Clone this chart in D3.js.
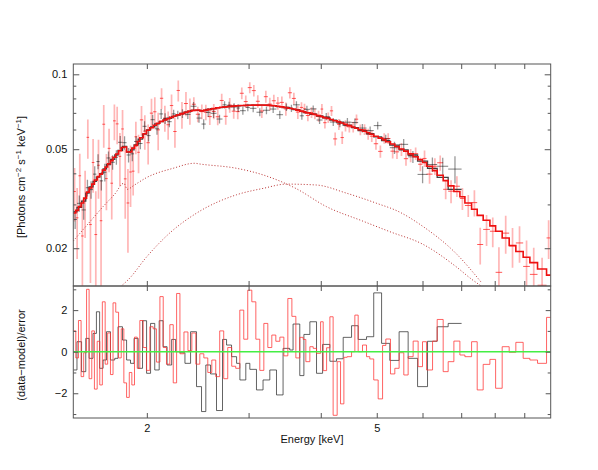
<!DOCTYPE html>
<html>
<head>
<meta charset="utf-8">
<script src="https://cdn.jsdelivr.net/npm/d3@7"></script>
<style>
  body { margin: 0; background: #fff; }
  text { font-family: "Liberation Sans", Arial, sans-serif; }
</style>
</head>
<body>
<svg id="chart" width="598" height="470"></svg>
<script>
// ---- red spectrum (bin edges in keV, flux, 1-sigma error, model, residual) ----
const redEdges = [1.492, 1.507, 1.523, 1.539, 1.555, 1.573, 1.589, 1.606, 1.623, 1.641, 1.658, 1.675, 1.694, 1.711, 1.730, 1.748, 1.767, 1.787, 1.806, 1.825, 1.845, 1.865, 1.884, 1.904, 1.925, 1.945, 1.971, 1.997, 2.024, 2.051, 2.078, 2.107, 2.135, 2.163, 2.192, 2.222, 2.252, 2.282, 2.319, 2.356, 2.393, 2.431, 2.470, 2.510, 2.550, 2.591, 2.632, 2.674, 2.717, 2.761, 2.805, 2.850, 2.897, 2.943, 2.990, 3.039, 3.088, 3.137, 3.188, 3.239, 3.291, 3.344, 3.398, 3.453, 3.508, 3.565, 3.622, 3.679,
  3.729, 3.769, 3.830, 3.881, 3.933, 3.997, 4.039, 4.094, 4.148, 4.202, 4.270, 4.328, 4.386, 4.443, 4.522, 4.582, 4.643, 4.724, 4.800, 4.863, 4.940, 5.028, 5.117, 5.184, 5.281, 5.373, 5.466, 5.569, 5.666, 5.780, 5.896, 6.000, 6.097, 6.245, 6.361, 6.515, 6.646, 6.799, 6.964, 7.104, 7.296, 7.461, 7.641, 7.848, 8.029, 8.242, 8.475, 8.703, 8.961, 9.204, 9.489, 9.836, 10.0];
const redRate = [.0338, .0265, .0391, .0224, .0315, .0558, .0249, .0442, .0227, .0431,
  .0258, .0630, .0381, .0504, .0365, .0650, .0632, .0468, .0603, .0380,
  .0304, .0405, .0408, .0561, .0486, .0656, .0591, .0531, .0698, .0707,
  .0598, .0801, .0667, .0627, .0749, .0589, .0861, .0689, .0763, .0713,
  .0758, .0691, .0708, .0704, .0676, .0709, .0675, .0785, .0678, .0752,
  .0711, .0708, .0839, .0777, .0884, .0860, .0779, .0712, .0813, .0759,
  .0783, .0766, .0771, .0726, .0843, .0800, .0705,
  .0736, .0727, .0683, .0702, .0694, .0679, .0725, .0639, .0670, .0713,
  .0550, .0629, .0557, .0621, .0615, .0614, .0660, .0599, .0600, .0575,
  .0564, .0526, .0490, .0553, .0552, .0491, .0488, .0500, .0458, .0472,
  .0480, .0435, .0459, .0397, .0427, .0441, .0345, .0339, .0355, .0317,
  .0297, .0305, .0207, .0238, .0234, .0160, .0230, .0204, .0210, .0169,
  .0157, .0142, .0220];
const redErr = [.0082, .0084, .0088, .0090, .0095, .0100, .0104, .0108, .0112, .0115,
  .0117, .0123, .0097, .0100, .0104, .0107, .0109, .0113, .0116, .0117,
  .0112, .0112, .0082, .0084, .0086, .0090, .0093, .0097, .0099, .0101,
  .0103, .0078, .0080, .0081, .0081, .0082, .0084, .0085, .0085, .0086,
  .0050, .0050, .0049, .0050, .0050, .0050, .0051, .0051, .0051, .0051,
  .0048, .0049, .0045, .0045, .0045, .0045, .0045, .0045, .0045, .0045,
  .0045, .0045, .0044, .0044, .0044, .0044, .0043,
  .0036, .0035, .0035, .0035, .0034, .0034, .0034, .0034, .0033, .0033,
  .0033, .0032, .0032, .0032, .0031, .0031, .0030, .0030, .0030, .0029,
  .0029, .0028, .0028, .0027, .0027, .0032, .0031, .0030, .0029, .0029,
  .0028, .0027, .0035, .0034, .0033, .0031, .0030, .0036, .0034, .0032,
  .0030, .0037, .0035, .0034, .0032, .0042, .0040, .0037, .0035, .0046,
  .0044, .0041, .0039];
const redModel = [.0277, .0284, .0294, .0304, .0318, .0336, .0349, .0362, .0376, .0388,
  .0397, .0412, .0424, .0437, .0450, .0464, .0478, .0493, .0508, .0510,
  .0487, .0488, .0505, .0518, .0537, .0556, .0577, .0596, .0610, .0624,
  .0636, .0647, .0655, .0663, .0671, .0680, .0687, .0695, .0703, .0710,
  .0716, .0719, .0713, .0718, .0723, .0728, .0733, .0737, .0740, .0742,
  .0745, .0747, .0749, .0750, .0751, .0752, .0752, .0753, .0752, .0750,
  .0747, .0744, .0740, .0735, .0730, .0725, .0718,
  .0711, .0706, .0700, .0694, .0689, .0682, .0676, .0670, .0664, .0658,
  .0651, .0644, .0637, .0630, .0622, .0614, .0607, .0599, .0590, .0582,
  .0574, .0564, .0554, .0545, .0536, .0525, .0513, .0501, .0491, .0479,
  .0466, .0454, .0442, .0427, .0410, .0393, .0374, .0356, .0338, .0322,
  .0304, .0287, .0271, .0259, .0246, .0234, .0220, .0205, .0194, .0184,
  .0175, .0165, .0156];
const redResid = [1.0, -0.3, 1.5, -1.2, -0.05, 3.0, -1.3, 1.0, -1.8, 0.5,
  -1.6, 2.4, -0.6, 0.9, -1.1, 2.35, 1.9, -0.3, 1.1, -1.5,
  -2.2, -1.0, -1.6, 0.7, -0.8, 1.5, 0.2, -0.9, 1.2, 1.1,
  -0.5, 2.65, 0.2, -0.6, 1.3, -1.5, 2.8, -0.1, 0.95, 0.05,
  0.9, -0.6, -0.1, -0.3, -1.0, -0.4, -1.2, 1.0, -1.3, 0.2,
  -0.7, -0.8, 2.0, 0.6, 2.96, 2.4, 0.6, -0.9, 1.36, 0.2,
  0.8, 0.5, 0.7, -0.2, 2.56, 1.7, -0.3,
  0.69, 0.59, -0.48, 0.24, 0.16, -0.08, 1.44, -0.91, 0.19, 1.68,
  -3.06, -0.48, -2.51, -0.27, -0.24, 0, 1.76, 0, 0.32, -0.24,
  -0.35, -1.36, -2.27, 0.30, 0.61, -1.07, -0.80, -0.05, -1.12, -0.24,
  0.51, -0.72, 0.48, -0.88, 0.51, 1.55, -0.96, -0.48, 0.51, -0.16,
  -0.24, 0.48, -1.84, -0.61, -0.37, -1.76, 0.24, -0.03, 0.45, -0.32,
  -0.40, -0.56, 1.65];

// ---- black spectrum ----
const blackEdges = [1.492, 1.514, 1.542, 1.568, 1.589, 1.614, 1.636, 1.657, 1.680, 1.703, 1.730, 1.760, 1.783, 1.815, 1.845, 1.874, 1.901, 1.932, 1.966, 1.998, 2.030, 2.064, 2.101, 2.134, 2.168, 2.208, 2.243, 2.282, 2.328, 2.381, 2.438, 2.487, 2.530, 2.578, 2.640, 2.704, 2.748, 2.803, 2.860, 2.898, 2.967, 3.015, 3.096, 3.178, 3.265, 3.353, 3.442, 3.535, 3.582, 3.679, 3.740, 3.830, 3.933, 4.029, 4.148, 4.260, 4.374, 4.522, 4.643, 4.800, 4.940, 5.097, 5.266, 5.466, 5.666, 5.883, 6.121, 6.361, 6.646, 7.011];
const blackRate = [.0261, .0303, .0285, .0350, .0344, .0397, .0446, .0373, .0404, .0461,
  .0443, .0464, .0533, .0531, .0474, .0479, .0537, .0527, .0618, .0567,
  .0657, .0604, .0693, .0664, .0645, .0693, .0686, .0695, .0690, .0744,
  .0667, .0631, .0703, .0697, .0661, .0754, .0750, .0739, .0732, .0714,
  .0736, .0730, .0704, .0717, .0725, .0688, .0738, .0730, .0754, .0681,
  .0723, .0726, .0655, .0676, .0643, .0635, .0642, .0640, .0608, .0594,
  .0622, .0550, .0507, .0523, .0466, .0396, .0434, .0427, .0416];
const blackErr = [.0022, .0023, .0025, .0027, .0028, .0030, .0031, .0032, .0033, .0028,
  .0030, .0031, .0032, .0033, .0032, .0032, .0026, .0027, .0029, .0030,
  .0031, .0032, .0032, .0033, .0033, .0027, .0027, .0028, .0028, .0029,
  .0029, .0029, .0029, .0029, .0026, .0026, .0026, .0026, .0026, .0026,
  .0026, .0026, .0026, .0026, .0026, .0026, .0026, .0025, .0025, .0025,
  .0025, .0024, .0024, .0023, .0023, .0022, .0025, .0024, .0024, .0023,
  .0022, .0022, .0029, .0027, .0026, .0031, .0029, .0035, .0052];
const blackModel = [.0280, .0292, .0309, .0333, .0353, .0371, .0386, .0399, .0417, .0434,
  .0455, .0474, .0495, .0513, .0487, .0497, .0520, .0549, .0575, .0598,
  .0615, .0632, .0645, .0656, .0666, .0677, .0686, .0696, .0706, .0716,
  .0716, .0715, .0722, .0728, .0735, .0739, .0742, .0745, .0747, .0749,
  .0751, .0752, .0752, .0752, .0748, .0742, .0734, .0728, .0721, .0710,
  .0702, .0691, .0680, .0668, .0654, .0642, .0625, .0610, .0594, .0577,
  .0560, .0541, .0519, .0497, .0474, .0448, .0419, .0385, .0345];
const blackResid = [-0.88, 0.48, -0.96, 0.64, -0.32, 0.88, 1.92, -0.80, -0.40, 0.96,
  -0.40, -0.32, 1.20, 0.56, -0.40, -0.56, 0.64, -0.80, 1.49, -1.04,
  1.36, -0.88, 1.49, 0.24, -0.64, 0.59, 0, -0.05, -0.56, 0.96,
  -1.68, -2.88, -0.64, -1.07, -2.83, 0.59, 0.32, -0.24, -0.56, -1.36,
  -0.56, -0.85, -1.84, -1.36, -0.88, -2.08, 0.16, 0.08, 1.33,
  -1.15, 0.83, 1.44, -1.04, 0.35, -0.46, -0.34, 0.69, 1.25, 0.59,
  0.72, 2.83, 0.40, -0.42, 0.96, -0.32, -1.68, 0.50, 1.20, 1.36];

// ---- model components (dotted) ----
const softE = [1.492, 1.6, 1.68, 1.76, 1.825, 1.85, 1.9, 2.0, 2.22, 2.42, 2.47, 2.86, 3.18, 3.62, 4.09, 4.73, 5.27, 6.02, 6.85, 7.3, 7.65];
const softFlux = [0.0214, 0.0258, 0.0294, 0.0330, 0.0365, 0.0345, 0.0358, 0.0385, 0.0419, 0.0439, 0.0436, 0.0419, 0.0394, 0.0348, 0.0294, 0.0257, 0.0233, 0.0207, 0.0169, 0.0150, 0.0139];
const hardE = [1.80, 1.86, 2.0, 2.19, 2.44, 2.86, 3.18, 3.49, 3.93, 4.43, 5.0, 5.45, 6.02, 6.85, 7.6];
const hardFlux = [0.0140, 0.0150, 0.0185, 0.0230, 0.0277, 0.0328, 0.0348, 0.0362, 0.0359, 0.0333, 0.0303, 0.0281, 0.0244, 0.0191, 0.0145];

// ---- ticks ----
const energyTicks = [2, 3, 4, 5, 6, 7, 8, 9];
const energyLabels = [2, 5];
const fluxMinor = [0.03, 0.04, 0.06, 0.07, 0.08, 0.09];
const fluxMajor = [0.02, 0.05, 0.1];
const residMinor = [-3, -1, 1, 3];
const residMajor = [-2, 0, 2];

// Layout
const pLeft = 73.3, pRight = 550.7, pTop = 64, pMid = 286, pBottom = 418;
const svg = d3.select('#chart');

const x = d3.scaleLog().domain([1.492, 10]).range([pLeft, pRight]);
const yTop = d3.scaleLog().domain([0.0141, 0.11]).range([pMid, pTop]);
const yRes = d3.scaleLinear().domain([-3.19, 3.16]).range([pBottom, pMid]);

const defs = svg.append('defs');
defs.append('clipPath').attr('id', 'clipTop')
    .append('rect').attr('x', pLeft).attr('y', pTop).attr('width', pRight - pLeft).attr('height', pMid - pTop);
defs.append('clipPath').attr('id', 'clipRes')
    .append('rect').attr('x', pLeft).attr('y', pMid).attr('width', pRight - pLeft).attr('height', pBottom - pMid);

const gTop = svg.append('g').attr('clip-path', 'url(#clipTop)');
const gRes = svg.append('g').attr('clip-path', 'url(#clipRes)');

// data crosses: horizontal bar = bin width, vertical bar = error
function drawCrosses(edges, rate, err, color, hOpacity, vOpacity, vWidth) {
    const bins = rate.map((v, i) => ({ lo: edges[i], hi: edges[i + 1], v: v, e: err[i] }));
    gTop.append('g').selectAll('line').data(bins).enter().append('line')
        .attr('x1', d => x((d.lo + d.hi) / 2)).attr('x2', d => x((d.lo + d.hi) / 2))
        .attr('y1', d => yTop(d.v - d.e)).attr('y2', d => yTop(d.v + d.e))
        .attr('stroke', color).attr('stroke-opacity', vOpacity).attr('stroke-width', vWidth);
    gTop.append('g').selectAll('line').data(bins).enter().append('line')
        .attr('x1', d => x(d.lo)).attr('x2', d => x(d.hi))
        .attr('y1', d => yTop(d.v)).attr('y2', d => yTop(d.v))
        .attr('stroke', color).attr('stroke-opacity', hOpacity).attr('stroke-width', 1);
}

// histogram steps over bin edges
function stepPoints(edges, vals) {
    const pts = vals.map((v, i) => [edges[i], v]);
    pts.push([edges[vals.length], vals[vals.length - 1]]);
    return pts;
}

drawCrosses(redEdges, redRate, redErr, '#ff2020', 0.75, 0.33, 1.7);
drawCrosses(blackEdges, blackRate, blackErr, '#000', 0.5, 0.4, 1.3);

// dotted components
const compLine = d3.line().x(d => x(d[0])).y(d => yTop(d[1])).curve(d3.curveMonotoneX);
[[softE, softFlux], [hardE, hardFlux]].forEach(([es, fs]) => {
    gTop.append('path')
        .attr('d', compLine(es.map((e, i) => [e, fs[i]])))
        .attr('fill', 'none').attr('stroke', '#b83030')
        .attr('stroke-width', 1).attr('stroke-dasharray', '1,2');
});

// model histograms
const stepTop = d3.line().x(d => x(d[0])).y(d => yTop(d[1])).curve(d3.curveStepAfter);
gTop.append('path').attr('d', stepTop(stepPoints(blackEdges, blackModel)))
    .attr('fill', 'none').attr('stroke', '#222').attr('stroke-opacity', 0.85).attr('stroke-width', 1.3);
gTop.append('path').attr('d', stepTop(stepPoints(redEdges, redModel)))
    .attr('fill', 'none').attr('stroke', '#ee1010').attr('stroke-width', 1.6);

// residuals
const stepRes = d3.line().x(d => x(d[0])).y(d => yRes(d[1])).curve(d3.curveStepAfter);
gRes.append('path').attr('d', stepRes(stepPoints(blackEdges, blackResid)))
    .attr('fill', 'none').attr('stroke', '#222').attr('stroke-opacity', 0.7).attr('stroke-width', 1);
gRes.append('path').attr('d', stepRes(stepPoints(redEdges, redResid)))
    .attr('fill', 'none').attr('stroke', '#ff3030').attr('stroke-opacity', 0.75).attr('stroke-width', 1);
gRes.append('line')
    .attr('x1', pLeft).attr('x2', pRight).attr('y1', yRes(0)).attr('y2', yRes(0))
    .attr('stroke', '#44ee44').attr('stroke-width', 1.5);

// axes with inward ticks
function drawAxis(axisFn, scale, ticks, size, fmt, transform) {
    const g = svg.append('g').attr('transform', transform)
        .call(axisFn(scale).tickValues(ticks).tickSize(-size).tickSizeOuter(0).tickPadding(6).tickFormat(fmt));
    g.select('.domain').remove();
    g.attr('font-family', '"Liberation Sans", Arial, sans-serif').attr('font-size', 11);
    g.selectAll('line').attr('stroke', '#555');
    g.selectAll('text').attr('fill', '#111');
}
const noLabel = () => '';
const energyFmt = d => energyLabels.includes(d) ? String(d) : '';

drawAxis(d3.axisTop, x, energyTicks, 5, noLabel, `translate(0,${pTop})`);
drawAxis(d3.axisBottom, x, energyTicks, 5, noLabel, `translate(0,${pMid})`);
drawAxis(d3.axisTop, x, energyTicks, 5, noLabel, `translate(0,${pMid})`);
drawAxis(d3.axisBottom, x, energyTicks, 5, energyFmt, `translate(0,${pBottom})`);

drawAxis(d3.axisLeft, yTop, fluxMinor, 3, noLabel, `translate(${pLeft},0)`);
drawAxis(d3.axisLeft, yTop, fluxMajor, 6, d => String(d), `translate(${pLeft},0)`);
drawAxis(d3.axisRight, yTop, fluxMinor, 3, noLabel, `translate(${pRight},0)`);
drawAxis(d3.axisRight, yTop, fluxMajor, 6, noLabel, `translate(${pRight},0)`);

drawAxis(d3.axisLeft, yRes, residMinor, 3, noLabel, `translate(${pLeft},0)`);
drawAxis(d3.axisLeft, yRes, residMajor, 5, d3.format('d'), `translate(${pLeft},0)`);
drawAxis(d3.axisRight, yRes, residMinor, 3, noLabel, `translate(${pRight},0)`);
drawAxis(d3.axisRight, yRes, residMajor, 5, noLabel, `translate(${pRight},0)`);

// frames
svg.append('rect').attr('x', pLeft).attr('y', pTop).attr('width', pRight - pLeft).attr('height', pMid - pTop)
    .attr('fill', 'none').attr('stroke', '#555');
svg.append('rect').attr('x', pLeft).attr('y', pMid).attr('width', pRight - pLeft).attr('height', pBottom - pMid)
    .attr('fill', 'none').attr('stroke', '#555');

// axis titles
const yTitle = svg.append('text')
    .attr('transform', 'translate(25,177) rotate(-90)')
    .attr('text-anchor', 'middle').attr('font-size', 11).attr('fill', '#111');
[['[Photons cm', 0], ['\u22122', 1], [' s', 0], ['\u22121', 1], [' keV', 0], ['\u22121', 1], [']', 0]]
    .forEach(([t, sup], i, arr) => {
        const prevSup = i > 0 ? arr[i - 1][1] : 0;
        yTitle.append('tspan').text(t)
            .attr('font-size', sup ? 8 : 11)
            .attr('dy', sup && !prevSup ? -4 : (!sup && prevSup ? 4 : 0));
    });

svg.append('text')
    .attr('transform', 'translate(25,355) rotate(-90)')
    .attr('text-anchor', 'middle').attr('font-size', 11).attr('fill', '#111')
    .text('(data\u2212model)/error');

svg.append('text')
    .attr('x', 312).attr('y', 443)
    .attr('text-anchor', 'middle').attr('font-size', 11).attr('fill', '#111')
    .text('Energy [keV]');
</script>
</body>
</html>
